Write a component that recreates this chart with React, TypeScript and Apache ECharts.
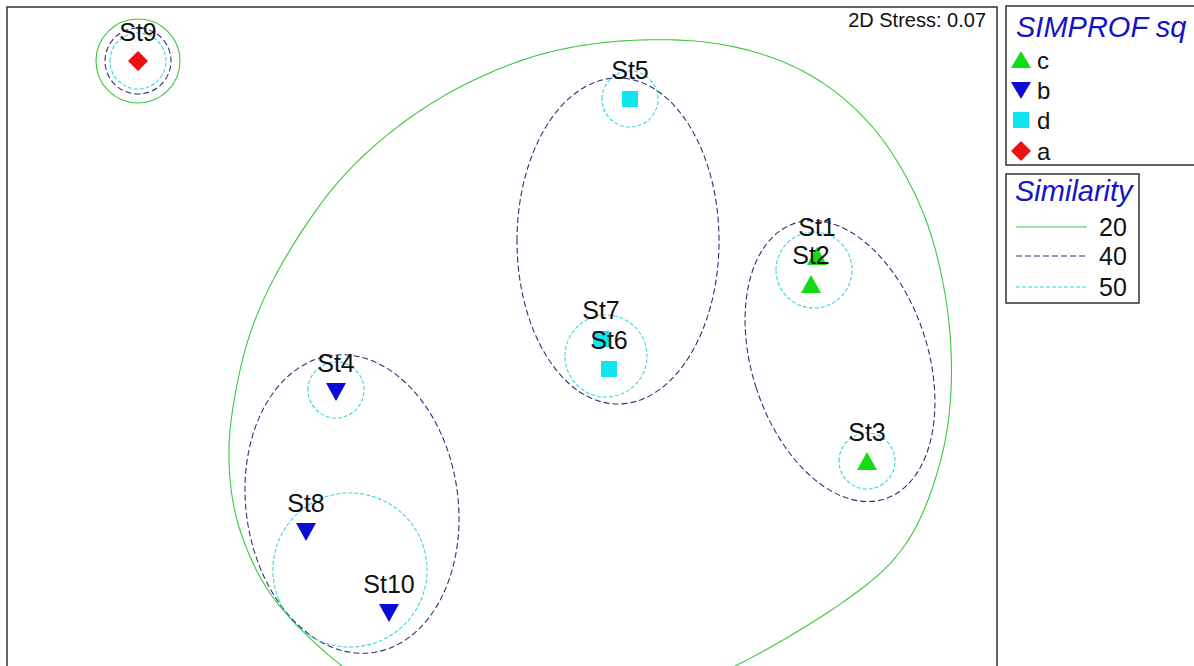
import React, { useEffect, useRef } from 'react';
import * as echarts from 'echarts';

// nMDS ordination (2D), station coordinates
const stations = ['St1', 'St2', 'St3', 'St4', 'St5', 'St6', 'St7', 'St8', 'St9', 'St10'];
const mdsX = [3.17, 3.11, 3.67, -1.64, 1.3, 1.09, 1.01, -1.94, -3.62, -1.11];
const mdsY = [0.89, 0.61, -1.16, -0.47, 2.46, -0.24, 0.06, -1.87, 2.84, -2.68];
const simprofGroup = ['c', 'c', 'c', 'b', 'd', 'd', 'd', 'b', 'a', 'b'];
const groupOrder = ['c', 'b', 'd', 'a'];

// Similarity contours (ellipses): [centerX, centerY, radiusX, radiusY, rotationDeg]
const similarityLevels = ['20', '40', '50'];
const contour20 = [[-3.62, 2.84, 0.42, 0.42, 0]];
// Large 20% contour outline (St1-St8, St10), MDS units
const contour20OutlineX = [1.4, 2.3, 3.1, 3.75, 4.22, 4.46, 4.51, 4.38, 4.05, 3.46, 2.35, 1.2, 0.0, -0.9, -1.58, -2.25, -2.6, -2.71, -2.64, -2.45, -2.1, -1.6, -1.0, -0.3, 0.5];
const contour20OutlineY = [3.05, 2.99, 2.7, 2.15, 1.35, 0.45, -0.45, -1.25, -2.0, -2.55, -3.21, -3.67, -3.77, -3.6, -3.21, -2.55, -1.85, -1.15, -0.45, 0.25, 0.95, 1.65, 2.2, 2.63, 2.93];
const contour40 = [
  [-3.62, 2.84, 0.33, 0.33, 0],
  [1.18, 1.04, 1.01, 1.63, 0],
  [3.4, -0.16, 0.88, 1.45, 18],
  [-1.48, -1.59, 1.06, 1.5, 8],
];
const contour50 = [
  [-3.62, 2.84, 0.28, 0.28, 0],
  [1.3, 2.46, 0.28, 0.28, 0],
  [1.06, -0.11, 0.41, 0.41, 0],
  [3.14, 0.75, 0.38, 0.38, 0],
  [3.67, -1.16, 0.28, 0.28, 0],
  [-1.64, -0.45, 0.28, 0.28, 0],
  [-1.5, -2.25, 0.77, 0.77, 23],
];
const stressText = '2D Stress: 0.07';

const FONT = 'Liberation Sans, Arial, sans-serif';
const groupColor: Record<string, string> = {
  c: '#14dc14',
  b: '#0c0cd4',
  d: '#10e6f0',
  a: '#ec1010',
};
const groupSymbol: Record<string, any> = {
  c: { symbol: 'triangle', size: [20, 18], rotate: 0 },
  b: { symbol: 'triangle', size: [20, 18], rotate: 180 },
  d: { symbol: 'rect', size: [16, 16], rotate: 0 },
  a: { symbol: 'diamond', size: [20, 20], rotate: 0 },
};
const levelStyle: Record<string, any> = {
  '20': { stroke: '#3cc83c', lineWidth: 1.1, lineDash: null },
  '40': { stroke: '#30307a', lineWidth: 1.1, lineDash: [6, 3] },
  '50': { stroke: '#3cd6dc', lineWidth: 1.1, lineDash: [4, 2] },
};

function lineStyleFor(level: string) {
  const st = levelStyle[level];
  return { fill: 'none', stroke: st.stroke, lineWidth: st.lineWidth, lineDash: st.lineDash };
}

function contourSeries(level: string, data: number[][]) {
  return {
    type: 'custom',
    name: 'sim' + level,
    clip: true,
    silent: true,
    z: 1,
    data,
    renderItem: (params: any, api: any) => {
      const c = api.coord([api.value(0), api.value(1)]);
      const s = api.size([api.value(2), api.value(3)]);
      return {
        type: 'ellipse',
        x: c[0],
        y: c[1],
        rotation: (api.value(4) * Math.PI) / 180,
        shape: { cx: 0, cy: 0, rx: s[0], ry: s[1] },
        style: lineStyleFor(level),
      };
    },
  };
}

// closed Catmull-Rom spline through pixel points
function closedSpline(pts: number[][], steps: number) {
  const n = pts.length;
  const out: number[][] = [];
  for (let i = 0; i < n; i++) {
    const p0 = pts[(i - 1 + n) % n];
    const p1 = pts[i];
    const p2 = pts[(i + 1) % n];
    const p3 = pts[(i + 2) % n];
    for (let k = 0; k < steps; k++) {
      const t = k / steps;
      const t2 = t * t;
      const t3 = t2 * t;
      const f = (a: number, b: number, c: number, d: number) =>
        0.5 * (2 * b + (-a + c) * t + (2 * a - 5 * b + 4 * c - d) * t2 + (-a + 3 * b - 3 * c + d) * t3);
      out.push([f(p0[0], p1[0], p2[0], p3[0]), f(p0[1], p1[1], p2[1], p3[1])]);
    }
  }
  return out;
}

function outlineSeries(level: string, xs: number[], ys: number[]) {
  return {
    type: 'custom',
    name: 'outline' + level,
    clip: true,
    silent: true,
    z: 1,
    data: [0],
    renderItem: (params: any, api: any) => {
      const pts = xs.map((x, i) => api.coord([x, ys[i]]));
      return {
        type: 'polygon',
        shape: { points: closedSpline(pts, 16) },
        style: lineStyleFor(level),
      };
    },
  };
}

export default function App() {
  const ref = useRef<HTMLDivElement>(null);
  useEffect(() => {
    if (!ref.current) return;
    const chart = echarts.init(ref.current, null, { renderer: 'svg' });

    const scatterSeries = groupOrder.map((g) => {
      const gs = groupSymbol[g];
      return {
        type: 'scatter',
        name: g,
        z: 3,
        symbol: gs.symbol,
        symbolSize: gs.size,
        symbolRotate: gs.rotate,
        itemStyle: { color: groupColor[g], opacity: 1 },
        label: {
          show: true,
          formatter: '{b}',
          position: 'inside',
          offset: [0, -29],
          color: '#111',
          fontSize: 25,
          fontFamily: FONT,
        },
        data: stations
          .map((name, i) => ({ name, value: [mdsX[i], mdsY[i]], g: simprofGroup[i] }))
          .filter((d) => d.g === g)
          .map((d) => ({ name: d.name, value: d.value })),
      };
    });

    const legendMarkers: any[] = [];
    const legendYs = [60, 90, 120, 151];
    groupOrder.forEach((g, i) => {
      const y = legendYs[i];
      const x = 1021;
      const col = groupColor[g];
      if (g === 'c') {
        legendMarkers.push({ type: 'polygon', shape: { points: [[x - 10, y + 8], [x + 10, y + 8], [x, y - 9]] }, style: { fill: col } });
      } else if (g === 'b') {
        legendMarkers.push({ type: 'polygon', shape: { points: [[x - 10, y - 8], [x + 10, y - 8], [x, y + 9]] }, style: { fill: col } });
      } else if (g === 'd') {
        legendMarkers.push({ type: 'rect', shape: { x: x - 8, y: y - 8, width: 16, height: 16 }, style: { fill: col } });
      } else {
        legendMarkers.push({ type: 'polygon', shape: { points: [[x - 10, y], [x, y - 10], [x + 10, y], [x, y + 10]] }, style: { fill: col } });
      }
      legendMarkers.push({
        type: 'text',
        x: 1037,
        y,
        style: { text: g, fontSize: 24, fontFamily: FONT, fill: '#111', verticalAlign: 'middle' },
      });
    });

    const simYs = [227, 256, 287];
    const simItems: any[] = [];
    similarityLevels.forEach((lv, i) => {
      const st = levelStyle[lv];
      simItems.push({
        type: 'line',
        shape: { x1: 1016, y1: simYs[i], x2: 1087, y2: simYs[i] },
        style: { stroke: st.stroke, lineWidth: 1.2, lineDash: st.lineDash },
      });
      simItems.push({
        type: 'text',
        x: 1099,
        y: simYs[i],
        style: { text: lv, fontSize: 25, fontFamily: FONT, fill: '#111', verticalAlign: 'middle' },
      });
    });

    chart.setOption({
      animation: false,
      backgroundColor: '#fff',
      grid: {
        show: true,
        left: 7,
        top: 7,
        width: 990,
        height: 680,
        borderColor: '#333',
        borderWidth: 1.5,
        backgroundColor: '#fff',
      },
      xAxis: { type: 'value', min: -4.93, max: 4.97, show: false },
      yAxis: { type: 'value', min: -3.42, max: 3.38, show: false },
      series: [
        contourSeries('20', contour20),
        outlineSeries('20', contour20OutlineX, contour20OutlineY),
        contourSeries('40', contour40),
        contourSeries('50', contour50),
        ...scatterSeries,
      ],
      graphic: [
        {
          type: 'text',
          x: 986,
          y: 20,
          style: { text: stressText, fontSize: 20, fontFamily: FONT, fill: '#111', align: 'right', verticalAlign: 'middle' },
        },
        {
          type: 'rect',
          shape: { x: 1006, y: 6, width: 220, height: 159 },
          style: { fill: '#fff', stroke: '#333', lineWidth: 1.5 },
        },
        {
          type: 'text',
          x: 1016,
          y: 27,
          style: { text: 'SIMPROF sq', fontSize: 29, fontStyle: 'italic', fontFamily: FONT, fill: '#1414c4', verticalAlign: 'middle' },
        },
        ...legendMarkers,
        {
          type: 'rect',
          shape: { x: 1006, y: 174, width: 133, height: 129 },
          style: { fill: '#fff', stroke: '#333', lineWidth: 1.5 },
        },
        {
          type: 'text',
          x: 1015,
          y: 191,
          style: { text: 'Similarity', fontSize: 29, fontStyle: 'italic', fontFamily: FONT, fill: '#1414c4', verticalAlign: 'middle' },
        },
        ...simItems,
      ],
    });
    return () => chart.dispose();
  }, []);
  return (
    <div
      ref={ref}
      style={{ position: 'fixed', left: 0, top: 0, width: 1194, height: 700, background: '#fff' }}
    />
  );
}
